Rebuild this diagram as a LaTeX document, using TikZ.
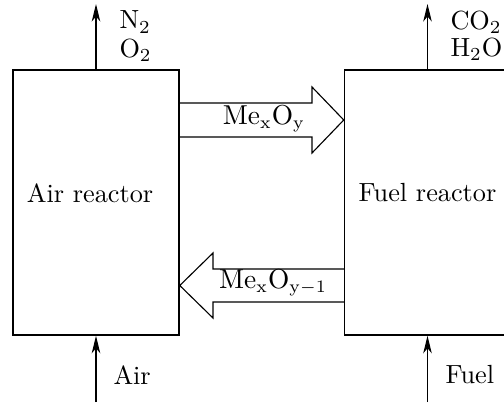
\documentclass[tikz,border=0pt]{standalone}
\usetikzlibrary{arrows.meta,calc}
\begin{document}
\begin{tikzpicture}[x=0.4pt,y=-0.4pt,
  reactor/.style={draw,line width=0.6pt,inner sep=0pt,minimum width=66.4pt,minimum height=106pt},
  flow/.style={line width=0.45pt,-{Stealth[length=7pt,width=3.4pt,inset=2pt]}},
  block/.style={draw,line width=0.45pt,line join=miter},
  lbl/.style={inner sep=0pt,anchor=west,font=\fontsize{10.5}{12}\selectfont},
  blbl/.style={inner sep=0pt,font=\fontsize{10.5}{12}\selectfont}]
\useasboundingbox (0,0) rectangle (504,405);
\clip (0,0) rectangle (504,405);
% reactors
\node[reactor] (air) at (96,202.5) {};
\node[reactor] (fuel) at (427.5,202.5) {};
\node[blbl] (airtxt) at (90,193) {Air reactor};
\node[blbl] (fueltxt) at (427.5,193) {Fuel reactor};
% outlet / inlet arrows
\coordinate (airout) at (air.north |- 0,4);
\coordinate (fuelout) at (fuel.north |- 0,4);
\coordinate (airin) at (air.south |- 0,402);
\coordinate (fuelin) at (fuel.south |- 0,402);
\draw[flow] (air.north) -- (airout);
\draw[flow] (fuel.north) -- (fuelout);
\draw[flow] (airin) -- (air.south);
\draw[flow] (fuelin) -- (fuel.south);
% stream labels
\node[lbl] (n2) at (119,22) {N\textsubscript{2}};
\node[lbl] (o2) at (119,50) {O\textsubscript{2}};
\node[lbl] (co2) at (450,22) {CO\textsubscript{2}};
\node[lbl] (h2o) at (450,49) {H\textsubscript{2}O};
\node[lbl] (airlbl) at (113,375) {Air};
\node[lbl] (fuellbl) at (445,375) {Fuel};
% block arrows
\draw[block] (air.east |- 0,103) -- (312,103) -- (312,87) -- (fuel.west |- 0,120)
  -- (312,153) -- (312,137) -- (air.east |- 0,137);
\draw[block] (fuel.west |- 0,269) -- (213,269) -- (213,253) -- (air.east |- 0,285.5)
  -- (213,318) -- (213,302) -- (fuel.west |- 0,302);
\node[blbl] (ox) at (264,119) {$\mathrm{Me}_{\mathrm{x}}\mathrm{O}_{\mathrm{y}}$};
\node[blbl] (red) at (273,283) {$\mathrm{Me}_{\mathrm{x}}\mathrm{O}_{\mathrm{y}-1}$};
\end{tikzpicture}
\end{document}
